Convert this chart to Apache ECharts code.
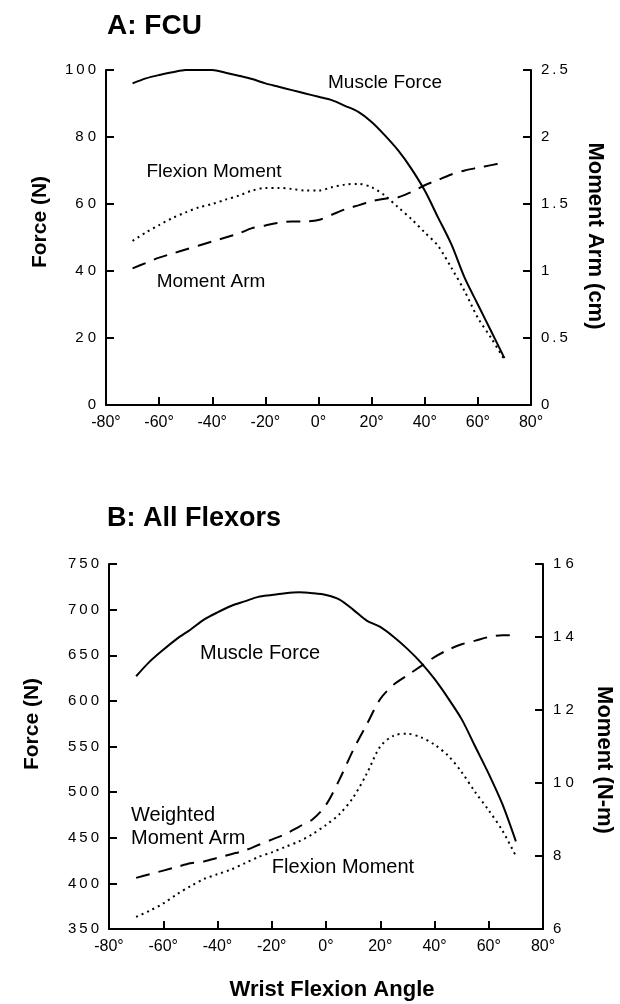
<!DOCTYPE html>
<html><head><meta charset="utf-8">
<script src="https://cdn.jsdelivr.net/npm/echarts@6/dist/echarts.min.js"></script>
<style>html,body{margin:0;padding:0;background:#fff}#c{width:620px;height:1004px}</style>
</head><body><div id="c"></div>
<script>
var angles = [-70,-65,-60,-55,-50,-45,-40,-35,-30,-25,-20,-15,-10,-5,0,5,10,15,20,25,30,35,40,45,50,55,60,65,70];
// Panel A: FCU
var fcuForce = [96,97.5,98.5,99.3,100,100,100,99.2,98.3,97.3,96,95,94,93,92,91,89.3,87.5,84.5,80.5,76,70.5,64,56,48,38,30,22,14];
var fcuFlexMoment = [49,51.5,53.7,55.8,57.5,59,60,61.3,62.5,64,64.8,64.8,64.5,64,64,65,65.8,66,65,62.5,59,55.5,51.5,47.5,41,34,26,20,13.5];
var fcuMomentArm = [1.02,1.06,1.10,1.13,1.16,1.19,1.22,1.25,1.28,1.32,1.34,1.36,1.37,1.37,1.38,1.42,1.46,1.49,1.52,1.54,1.55,1.59,1.64,1.68,1.72,1.75,1.77,1.79,1.81];
// Panel B: All flexors
var allForce = [627,643,656,668,678,689,697,704,709,714,716,718,719,718,716,711,700,688,681,670,657,642,624,603,580,550,520,487,446];
var allMomentArm = [7.4,7.5,7.6,7.7,7.8,7.85,7.95,8.05,8.15,8.3,8.45,8.6,8.8,9.0,9.4,10.1,10.9,11.6,12.3,12.7,12.95,13.2,13.45,13.65,13.8,13.9,14.0,14.05,14.05];
var allFlexMoment = [6.33,6.5,6.7,6.95,7.17,7.37,7.5,7.63,7.8,7.97,8.1,8.25,8.4,8.6,8.85,9.15,9.6,10.25,11.0,11.3,11.35,11.25,11.05,10.75,10.3,9.75,9.25,8.7,8.0];
var xTicks = [-80,-60,-40,-20,0,20,40,60,80];

function pairs(v){ return angles.map(function(a,i){return [a, v[i]];}); }
var FONT = 'Liberation Sans';
var axisLine = {show:true, onZero:false, lineStyle:{color:'#000', width:2}};
var axisTick = {show:true, inside:true, length:8, lineStyle:{color:'#000', width:2}};
function spaced(s){ return String(s).split('').join('\u2009'); }

var chart = echarts.init(document.getElementById('c'), null, {renderer:'canvas'});
var option = {
  backgroundColor:'#fff',
  animation:false,
  textStyle:{fontFamily:FONT, color:'#000'},
  grid:[
    {left:106, right:89, top:70, height:335},
    {left:109, right:77, top:564, height:365}
  ],
  xAxis:[0,1].map(function(g){return {
    type:'value', gridIndex:g, min:-80, max:80, interval:20,
    axisLine:axisLine, axisTick:axisTick, splitLine:{show:false},
    axisLabel:{color:'#000', fontSize:16, fontFamily:FONT, margin:10, formatter:function(v){return v+'°';}}
  };}),
  yAxis:[
    {type:'value', gridIndex:0, min:0, max:100, interval:20, position:'left',
     axisLine:axisLine, axisTick:axisTick, splitLine:{show:false},
     axisLabel:{color:'#000', fontSize:15, fontFamily:FONT, margin:10, formatter:function(v){return v===100||v===0? spaced(v) : String(v).split('').join(' ');}}},
    {type:'value', gridIndex:0, min:0, max:2.5, interval:0.5, position:'right',
     axisLine:axisLine, axisTick:axisTick, splitLine:{show:false},
     axisLabel:{color:'#000', fontSize:15, fontFamily:FONT, margin:10, formatter:function(v){return spaced(v);}}},
    {type:'value', gridIndex:1, min:350, max:750, interval:50, position:'left',
     axisLine:axisLine, axisTick:axisTick, splitLine:{show:false},
     axisLabel:{color:'#000', fontSize:15, fontFamily:FONT, margin:10, formatter:function(v){return spaced(v);}}},
    {type:'value', gridIndex:1, min:6, max:16, interval:2, position:'right',
     axisLine:axisLine, axisTick:axisTick, splitLine:{show:false},
     axisLabel:{color:'#000', fontSize:15, fontFamily:FONT, margin:10, formatter:function(v){return String(v).split('').join(' ');}}}
  ],
  series:[
    {type:'line', xAxisIndex:0, yAxisIndex:0, data:pairs(fcuForce), smooth:0.3, symbol:'none', lineStyle:{color:'#000', width:2, type:'solid'}},
    {type:'line', xAxisIndex:0, yAxisIndex:0, data:pairs(fcuFlexMoment), smooth:0.3, symbol:'none', lineStyle:{color:'#000', width:2, type:[2,4]}},
    {type:'line', xAxisIndex:0, yAxisIndex:1, data:pairs(fcuMomentArm), smooth:0.3, symbol:'none', lineStyle:{color:'#000', width:2, type:[14,9]}},
    {type:'line', xAxisIndex:1, yAxisIndex:2, data:pairs(allForce), smooth:0.3, symbol:'none', lineStyle:{color:'#000', width:2, type:'solid'}},
    {type:'line', xAxisIndex:1, yAxisIndex:3, data:pairs(allMomentArm), smooth:0.3, symbol:'none', lineStyle:{color:'#000', width:2, type:[14,9]}},
    {type:'line', xAxisIndex:1, yAxisIndex:3, data:pairs(allFlexMoment), smooth:0.3, symbol:'none', lineStyle:{color:'#000', width:2, type:[2,4]}}
  ],
  graphic:[
    {type:'text', left:107, top:12, style:{text:'A: FCU', font:'bold 28px '+FONT, fill:'#000'}},
    {type:'text', left:107, top:505, style:{text:'B: All Flexors', font:'bold 27px '+FONT, fill:'#000'}},
    {type:'text', x:40, y:222, rotation:Math.PI/2, style:{text:'Force (N)', font:'bold 21px '+FONT, fill:'#000', align:'center', verticalAlign:'middle'}},
    {type:'text', x:595, y:236, rotation:-Math.PI/2, style:{text:'Moment Arm (cm)', font:'bold 22px '+FONT, fill:'#000', align:'center', verticalAlign:'middle'}},
    {type:'text', x:32, y:724, rotation:Math.PI/2, style:{text:'Force (N)', font:'bold 21px '+FONT, fill:'#000', align:'center', verticalAlign:'middle'}},
    {type:'text', x:604, y:760, rotation:-Math.PI/2, style:{text:'Moment (N-m)', font:'bold 22px '+FONT, fill:'#000', align:'center', verticalAlign:'middle'}},
    {type:'text', x:332, y:990, style:{text:'Wrist Flexion Angle', font:'bold 22px '+FONT, fill:'#000', align:'center', verticalAlign:'middle'}},
    {type:'text', x:385, y:83, style:{text:'Muscle Force', font:'19px '+FONT, fill:'#000', align:'center', verticalAlign:'middle'}},
    {type:'text', x:214, y:172, style:{text:'Flexion Moment', font:'19px '+FONT, fill:'#000', align:'center', verticalAlign:'middle'}},
    {type:'text', x:211, y:282, style:{text:'Moment Arm', font:'19px '+FONT, fill:'#000', align:'center', verticalAlign:'middle'}},
    {type:'text', x:260, y:653, style:{text:'Muscle Force', font:'20px '+FONT, fill:'#000', align:'center', verticalAlign:'middle'}},
    {type:'text', x:131, y:815, style:{text:'Weighted', font:'20px '+FONT, fill:'#000', align:'left', verticalAlign:'middle'}},
    {type:'text', x:131, y:838, style:{text:'Moment Arm', font:'20px '+FONT, fill:'#000', align:'left', verticalAlign:'middle'}},
    {type:'text', x:343, y:867, style:{text:'Flexion Moment', font:'20px '+FONT, fill:'#000', align:'center', verticalAlign:'middle'}}
  ]
};
chart.setOption(option);
</script></body></html>
